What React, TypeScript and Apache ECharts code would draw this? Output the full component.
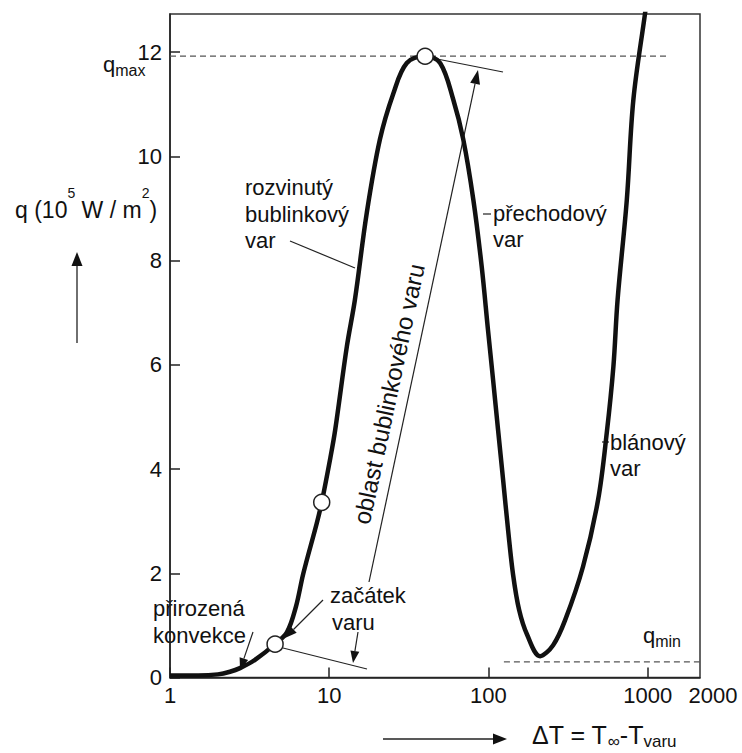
import React, { useEffect, useRef } from "react";
import * as echarts from "echarts";

// ---- data ----
const curveDT = [
  1, 1.5, 2.0, 2.38, 2.75, 3.42, 4.57, 5.43, 6.18, 6.88, 8.35, 8.97, 10.1, 10.9, 12.9, 14.5,
  17.2, 20.8, 25.3, 30.7, 40, 49.7, 60.2, 69.5, 80.4, 90.7, 99.3, 106.9, 114.9, 123.6, 132.8,
  142.8, 155.7, 174.9, 211, 254.6, 302.9, 392.6, 488, 553, 609, 647, 739, 813, 963, 1006,
];
const curveQ = [
  0.04, 0.04, 0.06, 0.11, 0.18, 0.34, 0.64, 0.87, 1.36, 2.0, 2.96, 3.36, 4.17, 4.75, 6.35, 7.25,
  8.91, 10.32, 11.21, 11.79, 11.92, 11.79, 11.08, 10.32, 9.16, 7.88, 6.67, 5.71, 4.75, 3.79, 2.83,
  1.97, 1.3, 0.82, 0.41, 0.62, 1.1, 2.13, 3.41, 4.69, 5.97, 7.25, 9.16, 11.09, 12.75, 13.2,
];
const markerDT = [4.57, 8.97, 40];
const markerQ = [0.64, 3.36, 11.92];
const qMax = 11.92;
const qMaxLineDT = [1, 1380];
const qMin = 0.3;
const qMinLineDT = [125, 3920];
const yTicks = [0, 2, 4, 6, 8, 10, 12];
const xTicks = [1, 10, 100, 1000];
const extraXLabel = "2000";

const FONT = "'Liberation Sans', Arial, Helvetica, sans-serif";
const INK = "#111";

function txt(x: number, y: number, text: string, extra: any = {}) {
  return {
    type: "text",
    x,
    y,
    silent: true,
    ...extra,
    style: {
      text,
      fontSize: 22,
      fontFamily: FONT,
      fill: INK,
      align: "left",
      verticalAlign: "middle",
      textAlign: "left",
      textVerticalAlign: "middle",
      ...(extra.style || {}),
    },
  };
}

function seg(x1: number, y1: number, x2: number, y2: number, lw = 1.2) {
  return {
    type: "line",
    silent: true,
    shape: { x1, y1, x2, y2 },
    style: { stroke: "#222", lineWidth: lw },
  };
}

function arrow(x1: number, y1: number, x2: number, y2: number, len = 12, w = 4.5, lw = 1.2) {
  const a = Math.atan2(y2 - y1, x2 - x1);
  const c = Math.cos(a);
  const s = Math.sin(a);
  const bx = x2 - len * c;
  const by = y2 - len * s;
  const px = -s;
  const py = c;
  return [
    seg(x1, y1, bx, by, lw),
    {
      type: "polygon",
      silent: true,
      shape: {
        points: [
          [x2, y2],
          [bx + px * w, by + py * w],
          [bx - px * w, by - py * w],
        ],
      },
      style: { fill: "#111" },
    },
  ];
}

function richMain(size = 22, lh = 22) {
  return { fontSize: size, fontFamily: FONT, fill: INK, lineHeight: lh };
}

function subText(x: number, y: number, text: string, mainSize: number, subSize: number, drop = 7) {
  return {
    type: "text",
    x,
    y,
    silent: true,
    style: {
      text,
      align: "left",
      verticalAlign: "middle",
      textAlign: "left",
      textVerticalAlign: "middle",
      rich: {
        a: richMain(mainSize, mainSize),
        s: { ...richMain(subSize, mainSize + drop), verticalAlign: "bottom" },
      },
    },
  };
}

export default function App() {
  const ref = useRef<HTMLDivElement>(null);

  useEffect(() => {
    document.body.style.margin = "0";
    if (!ref.current) return;
    const chart = echarts.init(ref.current, undefined, { renderer: "svg" });

    const curve = curveDT.map((d, i) => [d, curveQ[i]]);
    const markers = markerDT.map((d, i) => [d, markerQ[i]]);

    const graphic: any[] = [
      // y axis title
      {
        type: "text",
        x: 15,
        y: 210,
        silent: true,
        style: {
          text: "{a|q (10}{s|5}{a| W / m}{s|2}{a|)}",
          align: "left",
          verticalAlign: "middle",
          textAlign: "left",
          textVerticalAlign: "middle",
          rich: {
            a: richMain(23, 48),
            s: { ...richMain(14, 48), verticalAlign: "top" },
          },
        },
      },
      ...arrow(77, 343, 77, 252, 14, 5.5, 1.3),
      // qmax / qmin labels
      subText(103, 64, "{a|q}{s|max}", 22, 16),
      subText(643, 635, "{a|q}{s|min}", 22, 16),
      // x axis extra label and title
      txt(713, 695, extraXLabel, { style: { align: "center", textAlign: "center" } }),
      ...arrow(383, 739, 507, 739, 14, 5.5, 1.3),
      subText(532, 735, "{a|ΔT = T}{s|∞}{a|-T}{s|varu}", 25, 17, 5),
      // annotations
      txt(245, 187, "rozvinutý"),
      txt(245, 214, "bublinkový"),
      txt(245, 240, "var"),
      seg(290, 241, 355, 268),
      txt(493, 213, "přechodový"),
      txt(493, 239, "var"),
      seg(483, 214, 491, 214),
      txt(610, 442, "blánový"),
      txt(610, 468, "var"),
      seg(602, 442, 609, 442),
      txt(153, 608, "přirozená"),
      txt(153, 635, "konvekce"),
      ...arrow(253, 632, 240, 670, 12, 4.5),
      txt(330, 595, "začátek"),
      txt(332, 622, "varu"),
      ...arrow(323, 600, 285, 638, 12, 4.5),
      ...arrow(358, 632, 353, 663, 12, 4.5),
      seg(283, 648, 367, 669),
      seg(432, 58, 503, 72),
      ...arrow(369, 582, 478, 70, 14, 5, 1.2),
      {
        type: "text",
        x: 389,
        y: 394,
        rotation: (77.94 * Math.PI) / 180,
        silent: true,
        style: {
          text: "oblast bublinkového varu",
          fontSize: 24,
          fontFamily: FONT,
          fill: INK,
          align: "center",
          verticalAlign: "middle",
          textAlign: "center",
          textVerticalAlign: "middle",
        },
      },
    ];

    const axisLabelBase = { fontSize: 22, fontFamily: FONT, color: INK };

    chart.setOption({
      animation: false,
      backgroundColor: "#fff",
      grid: {
        left: 170,
        right: 42,
        top: 14,
        bottom: 75.5,
        show: true,
        borderColor: "#333",
        borderWidth: 1.5,
        backgroundColor: "transparent",
      },
      xAxis: {
        type: "log",
        logBase: 10,
        min: 1,
        max: 2130,
        axisLine: { lineStyle: { color: "#222", width: 1.5 } },
        axisTick: { inside: true, length: 10, lineStyle: { color: "#222", width: 1.5 } },
        minorTick: { show: false },
        splitLine: { show: false },
        axisLabel: {
          ...axisLabelBase,
          margin: 7,
          showMaxLabel: false,
          formatter: (v: number) => {
            const r = Math.round(v);
            return xTicks.includes(r) && Math.abs(v - r) < 1e-6 * r ? String(r) : "";
          },
        },
      },
      yAxis: {
        type: "value",
        min: 0,
        max: 12.73,
        interval: 2,
        axisLine: { show: true, lineStyle: { color: "#222", width: 1.5 } },
        axisTick: { show: true, inside: true, length: 10, lineStyle: { color: "#222", width: 1.5 } },
        splitLine: { show: false },
        axisLabel: {
          ...axisLabelBase,
          margin: 8,
          showMaxLabel: false,
          formatter: (v: number) => (yTicks.includes(v) ? String(v) : ""),
        },
      },
      series: [
        {
          type: "line",
          data: qMaxLineDT.map((d) => [d, qMax]),
          symbol: "none",
          silent: true,
          lineStyle: { color: "#555", width: 1.2, type: [6, 4] },
          z: 1,
        },
        {
          type: "line",
          data: qMinLineDT.map((d) => [d, qMin]),
          symbol: "none",
          silent: true,
          clip: false,
          lineStyle: { color: "#555", width: 1.2, type: [6, 4] },
          z: 1,
        },
        {
          type: "line",
          data: curve,
          symbol: "none",
          smooth: 0.35,
          silent: true,
          lineStyle: { color: "#111", width: 4.5 },
          z: 2,
        },
        {
          type: "scatter",
          data: markers,
          symbol: "circle",
          symbolSize: 16,
          silent: true,
          itemStyle: { color: "#fff", borderColor: "#222", borderWidth: 1.5, opacity: 1 },
          z: 3,
        },
      ],
      graphic,
    });

    return () => chart.dispose();
  }, []);

  return <div ref={ref} style={{ width: 742, height: 753 }} />;
}
